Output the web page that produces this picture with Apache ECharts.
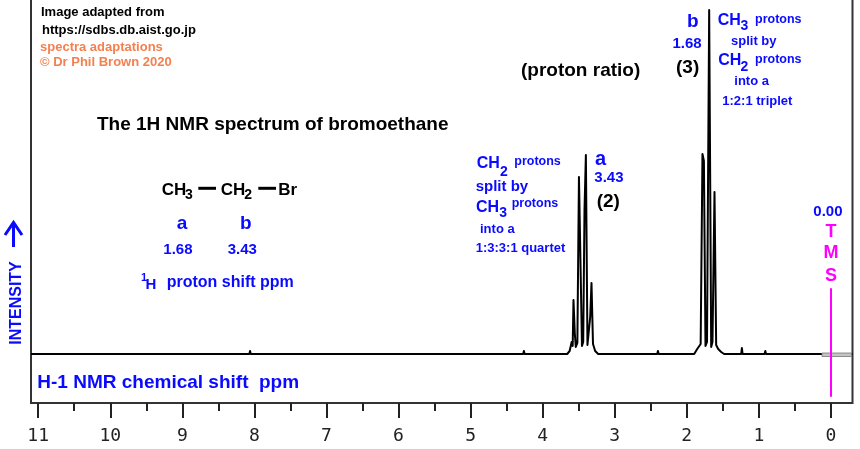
<!DOCTYPE html>
<html>
<head>
<meta charset="utf-8">
<script src="https://cdn.jsdelivr.net/npm/echarts@6/dist/echarts.min.js"></script>
<style>
html,body{margin:0;padding:0;background:#fff;}
#c{width:860px;height:449px;}
</style>
</head>
<body>
<div id="c"></div>
<script>
// ---- data ----
const shiftPpm = [11.1, 8.07, 8.06, 8.05, 6.80, 6.79, 6.78, 4.27, 4.26, 4.25,
  3.659, 3.625, 3.597, 3.583, 3.572, 3.554, 3.540, 3.518, 3.496, 3.475, 3.454, 3.437, 3.419, 3.400, 3.378, 3.357, 3.340, 3.322, 3.301, 3.271, 3.229,
  2.41, 2.40, 2.39,
  1.897, 1.855, 1.828, 1.807, 1.782, 1.762, 1.740, 1.719, 1.689, 1.661, 1.643, 1.629, 1.615, 1.592, 1.564, 1.522, 1.481,
  1.245, 1.235, 1.225, 0.92, 0.91, 0.90, -0.3];
const intensity = [0, 0, 3, 0, 0, 2, 0, 0, 3, 0,
  0, 3, 12, 8, 54, 21, 7, 11, 177, 176, 8, 12, 144, 199, 9, 8, 37, 71, 10, 3, 0,
  0, 3, 0,
  0, 5, 3, 10, 200, 193, 8, 12, 344, 7, 12, 87, 162, 9, 5, 2, 0,
  0, 6, 0, 0, 3, 0, 0];
const majorTicks = [0, 1, 2, 3, 4, 5, 6, 7, 8, 9, 10, 11];
const minorTicks = [0.5, 1.5, 2.5, 3.5, 4.5, 5.5, 6.5, 7.5, 8.5, 9.5, 10.5];
const tickLabels = ['0', '1', '2', '3', '4', '5', '6', '7', '8', '9', '10', '11'];
const xRange = [-0.3, 11.1];

const spectrum = shiftPpm.map((p, i) => [p, intensity[i]]);

const BLUE = '#0a0aff', MAG = '#ff00ff', CORAL = '#f5804f', BLACK = '#000';
const FF = '"Liberation Sans", Arial, Helvetica, sans-serif';
function T(x, y, text, size, color, align, extra) {
  const el = {
    type: 'text', x: x, y: y, z: 100,
    style: {
      text: text, fill: color,
      font: 'bold ' + size + 'px ' + FF,
      textAlign: align || 'left', align: align || 'left',
      textVerticalAlign: 'middle', verticalAlign: 'middle'
    }
  };
  if (extra) Object.assign(el, extra);
  return el;
}

const graphics = [
  T(41, 12, 'Image adapted from', 13, BLACK),
  T(42, 30, 'https://sdbs.db.aist.go.jp', 13, BLACK),
  T(40, 47.5, 'spectra adaptations', 13, CORAL),
  T(40, 62.5, '\u00A9 Dr Phil Brown 2020', 13, CORAL),
  T(97, 124.5, 'The 1H NMR spectrum of bromoethane', 19, BLACK),
  T(521, 71, '(proton ratio)', 19, BLACK),
  // triplet annotation
  T(687, 21.5, 'b', 19, BLUE),
  T(672.5, 43.5, '1.68', 15, BLUE),
  T(676, 68, '(3)', 19, BLACK),
  T(717.7, 20.5, 'CH', 16, BLUE),
  T(740.5, 26.5, '3', 14, BLUE),
  T(755, 19.5, 'protons', 12.5, BLUE),
  T(731, 41.5, 'split by', 13, BLUE),
  T(718.3, 61, 'CH', 16, BLUE),
  T(740.5, 67.5, '2', 14, BLUE),
  T(755, 59.5, 'protons', 12.5, BLUE),
  T(734.3, 81.5, 'into a', 13, BLUE),
  T(722.3, 101.5, '1:2:1 triplet', 13, BLUE),
  // quartet annotation
  T(476.7, 164, 'CH', 16, BLUE),
  T(500, 172.3, '2', 14, BLUE),
  T(514.3, 162, 'protons', 12.5, BLUE),
  T(475.7, 186.5, 'split by', 15, BLUE),
  T(476, 207.5, 'CH', 16, BLUE),
  T(499.3, 213.3, '3', 14, BLUE),
  T(511.7, 204, 'protons', 12.5, BLUE),
  T(480, 229.5, 'into a', 13, BLUE),
  T(475.7, 248.7, '1:3:3:1 quartet', 13, BLUE),
  T(595, 159, 'a', 20, BLUE),
  T(594.3, 178.3, '3.43', 15, BLUE),
  T(596.7, 201.7, '(2)', 19, BLACK),
  // molecule
  T(161.7, 190, 'CH', 17, BLACK),
  T(185, 195.5, '3', 14, BLACK),
  T(220.7, 190, 'CH', 17, BLACK),
  T(244.3, 195.5, '2', 14, BLACK),
  T(278.3, 190, 'Br', 17, BLACK),
  { type: 'line', z: 100, shape: { x1: 198.3, y1: 188.3, x2: 216, y2: 188.3 }, style: { stroke: BLACK, lineWidth: 3 } },
  { type: 'line', z: 100, shape: { x1: 258.3, y1: 188.3, x2: 276, y2: 188.3 }, style: { stroke: BLACK, lineWidth: 3 } },
  T(176.7, 223.5, 'a', 19, BLUE),
  T(240, 223.4, 'b', 19, BLUE),
  T(163.3, 250, '1.68', 15, BLUE),
  T(227.7, 250, '3.43', 15, BLUE),
  T(141, 278.3, '1', 11, BLUE),
  T(145.5, 285.3, 'H', 15, BLUE),
  T(166.7, 282.7, 'proton shift ppm', 16, BLUE),
  // TMS
  T(813.3, 211.7, '0.00', 15, BLUE),
  T(831, 231.7, 'T', 18, MAG, 'center'),
  T(831, 253.3, 'M', 18, MAG, 'center'),
  T(831, 276, 'S', 18, MAG, 'center'),
  { type: 'line', z: 100, shape: { x1: 831, y1: 288.3, x2: 831, y2: 396.7 }, style: { stroke: MAG, lineWidth: 2 } },
  { type: 'rect', z: 90, shape: { x: 822, y: 353, width: 29.5, height: 3.5 }, style: { fill: '#c4c4c4', stroke: '#777', lineWidth: 0.8 } },
  // intensity label and arrow
  T(16.7, 303, 'INTENSITY', 16, BLUE, 'center', { rotation: Math.PI / 2 }),
  { type: 'line', z: 100, shape: { x1: 13.5, y1: 247, x2: 13.5, y2: 224 }, style: { stroke: BLUE, lineWidth: 3 } },
  { type: 'polyline', z: 100, shape: { points: [[5, 235], [13.5, 222.5], [22, 235]] }, style: { stroke: BLUE, lineWidth: 3, fill: null } },
  // axis title
  T(37.3, 382.7, 'H-1 NMR chemical shift  ppm', 19, BLUE)
];

const chart = echarts.init(document.getElementById('c'), null, { renderer: 'canvas' });
chart.setOption({
  animation: false,
  backgroundColor: '#fff',
  grid: { left: 31, right: 7.5, top: -5, bottom: 46, show: true, borderColor: '#333', borderWidth: 2, containLabel: false, outerBoundsMode: 'none' },
  xAxis: [{
    type: 'value', position: 'bottom', inverse: true, min: xRange[0], max: xRange[1],
    axisLine: { show: false, onZero: false },
    splitLine: { show: false },
    axisTick: { show: true, inside: false, length: 15, customValues: majorTicks, lineStyle: { color: '#222', width: 2 } },
    axisLabel: {
      show: true, customValues: majorTicks, margin: 24, color: '#222',
      fontFamily: '"DejaVu Sans Mono", monospace', fontSize: 18, fontWeight: 'normal',
      formatter: function (v) { return tickLabels[majorTicks.indexOf(Math.round(v))]; }
    }
  }, {
    type: 'value', position: 'bottom', inverse: true, min: xRange[0], max: xRange[1],
    axisLine: { show: false, onZero: false }, splitLine: { show: false },
    axisTick: { show: true, inside: false, length: 8, customValues: minorTicks, lineStyle: { color: '#222', width: 2 } },
    axisLabel: { show: false }
  }],
  yAxis: { type: 'value', min: -49, max: 359, show: false },
  series: [{
    type: 'line', xAxisIndex: 0, data: spectrum, showSymbol: false, symbol: 'none',
    lineStyle: { color: '#000', width: 2, join: 'round' }, z: 50
  }],
  graphic: { elements: graphics }
});
</script>
</body>
</html>
